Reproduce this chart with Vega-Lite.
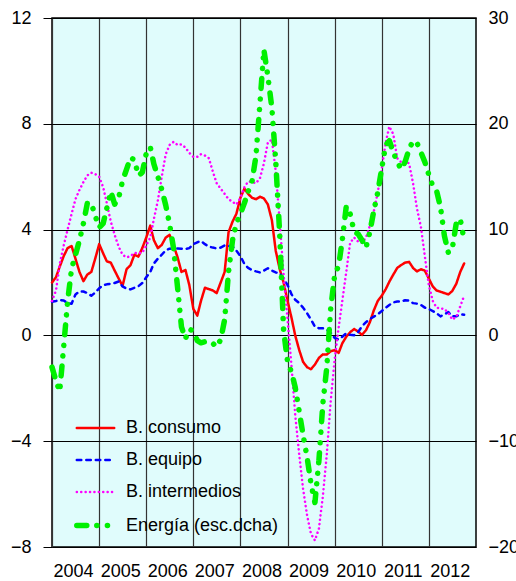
{
  "$schema": "https://vega.github.io/schema/vega-lite/v6.json",
  "width": 424,
  "height": 529,
  "autosize": {"type": "none"},
  "padding": {"left": 52, "top": 18, "right": 40, "bottom": 34},
  "background": "white",
  "config": {
    "view": {"fill": "#E0FCFC", "stroke": "#000", "strokeWidth": 1.5},
    "font": "Liberation Sans",
    "axis": {"labelFont": "Liberation Sans", "labelFontSize": 18, "labelColor": "#000", "title": null},
    "legend": {"labelFont": "Liberation Sans", "labelFontSize": 18, "labelColor": "#000"}
  },
  "data": {"values": [
    {"d":"2004-01","c":2.0,"e":1.27,"i":1.3,"n":-3.0},
    {"d":"2004-02","c":2.2,"e":1.3,"i":1.7,"n":-4.3},
    {"d":"2004-03","c":2.6,"e":1.34,"i":2.7,"n":-5.3},
    {"d":"2004-04","c":3.0,"e":1.32,"i":3.4,"n":-1.0},
    {"d":"2004-05","c":3.3,"e":1.22,"i":4.0,"n":3.2},
    {"d":"2004-06","c":3.38,"e":1.2,"i":4.6,"n":6.3},
    {"d":"2004-07","c":2.9,"e":1.55,"i":5.15,"n":7.6},
    {"d":"2004-08","c":2.4,"e":1.66,"i":5.5,"n":9.0},
    {"d":"2004-09","c":2.05,"e":1.66,"i":5.8,"n":10.6},
    {"d":"2004-10","c":2.3,"e":1.6,"i":6.05,"n":12.5},
    {"d":"2004-11","c":2.4,"e":1.5,"i":6.15,"n":12.5},
    {"d":"2004-12","c":2.9,"e":1.62,"i":6.1,"n":11.3},
    {"d":"2005-01","c":3.45,"e":1.78,"i":6.0,"n":10.2},
    {"d":"2005-02","c":3.1,"e":1.9,"i":5.6,"n":10.6},
    {"d":"2005-03","c":2.8,"e":1.93,"i":5.0,"n":12.0},
    {"d":"2005-04","c":2.75,"e":1.95,"i":4.3,"n":13.6},
    {"d":"2005-05","c":2.45,"e":1.98,"i":3.8,"n":12.4},
    {"d":"2005-06","c":2.15,"e":2.04,"i":3.35,"n":13.0},
    {"d":"2005-07","c":1.87,"e":1.85,"i":3.05,"n":14.6},
    {"d":"2005-08","c":2.5,"e":1.77,"i":2.95,"n":15.7},
    {"d":"2005-09","c":2.66,"e":1.74,"i":3.0,"n":16.8},
    {"d":"2005-10","c":3.05,"e":1.8,"i":3.12,"n":16.6},
    {"d":"2005-11","c":2.98,"e":1.86,"i":3.12,"n":15.1},
    {"d":"2005-12","c":3.3,"e":1.98,"i":3.12,"n":15.4},
    {"d":"2006-01","c":3.7,"e":2.2,"i":3.4,"n":17.2},
    {"d":"2006-02","c":4.15,"e":2.4,"i":3.7,"n":17.8},
    {"d":"2006-03","c":3.6,"e":2.72,"i":4.4,"n":16.2},
    {"d":"2006-04","c":3.3,"e":2.9,"i":5.1,"n":15.0},
    {"d":"2006-05","c":3.42,"e":3.05,"i":6.0,"n":13.8},
    {"d":"2006-06","c":3.7,"e":3.22,"i":6.85,"n":12.3},
    {"d":"2006-07","c":3.8,"e":3.28,"i":7.2,"n":10.5},
    {"d":"2006-08","c":3.4,"e":3.29,"i":7.32,"n":8.2},
    {"d":"2006-09","c":2.95,"e":3.29,"i":7.2,"n":4.5},
    {"d":"2006-10","c":2.4,"e":3.28,"i":7.22,"n":0.8},
    {"d":"2006-11","c":2.47,"e":3.27,"i":7.1,"n":-0.3},
    {"d":"2006-12","c":1.9,"e":3.3,"i":6.9,"n":0.6},
    {"d":"2007-01","c":1.0,"e":3.45,"i":6.75,"n":0.4},
    {"d":"2007-02","c":0.75,"e":3.52,"i":6.75,"n":-0.5},
    {"d":"2007-03","c":1.3,"e":3.57,"i":6.85,"n":-0.7},
    {"d":"2007-04","c":1.8,"e":3.45,"i":6.8,"n":-0.6},
    {"d":"2007-05","c":1.75,"e":3.36,"i":6.7,"n":-0.6},
    {"d":"2007-06","c":1.7,"e":3.32,"i":6.2,"n":-0.75},
    {"d":"2007-07","c":1.6,"e":3.29,"i":5.75,"n":-1.1},
    {"d":"2007-08","c":2.0,"e":3.32,"i":5.55,"n":-0.4},
    {"d":"2007-09","c":2.4,"e":3.4,"i":5.35,"n":1.5},
    {"d":"2007-10","c":3.9,"e":3.38,"i":5.15,"n":6.0},
    {"d":"2007-11","c":4.3,"e":3.36,"i":5.05,"n":9.0},
    {"d":"2007-12","c":4.6,"e":3.2,"i":4.95,"n":10.6},
    {"d":"2008-01","c":5.2,"e":3.0,"i":5.2,"n":11.5},
    {"d":"2008-02","c":5.55,"e":2.7,"i":5.6,"n":12.5},
    {"d":"2008-03","c":5.35,"e":2.55,"i":5.82,"n":13.6},
    {"d":"2008-04","c":5.2,"e":2.47,"i":5.8,"n":14.6},
    {"d":"2008-05","c":5.15,"e":2.42,"i":5.75,"n":17.0},
    {"d":"2008-06","c":5.24,"e":2.38,"i":5.95,"n":22.0},
    {"d":"2008-07","c":5.18,"e":2.45,"i":6.5,"n":27.0},
    {"d":"2008-08","c":4.95,"e":2.54,"i":7.3,"n":24.5},
    {"d":"2008-09","c":4.36,"e":2.45,"i":7.4,"n":21.5},
    {"d":"2008-10","c":3.2,"e":2.38,"i":6.2,"n":16.5},
    {"d":"2008-11","c":2.5,"e":2.35,"i":4.3,"n":9.5},
    {"d":"2008-12","c":2.0,"e":2.15,"i":2.3,"n":0.5},
    {"d":"2009-01","c":1.3,"e":1.9,"i":0.6,"n":-2.5},
    {"d":"2009-02","c":0.65,"e":1.55,"i":-1.2,"n":-3.5},
    {"d":"2009-03","c":0.0,"e":1.35,"i":-3.0,"n":-4.9},
    {"d":"2009-04","c":-0.55,"e":1.22,"i":-4.5,"n":-7.2},
    {"d":"2009-05","c":-1.0,"e":1.05,"i":-5.8,"n":-9.4},
    {"d":"2009-06","c":-1.2,"e":0.84,"i":-6.8,"n":-11.5},
    {"d":"2009-07","c":-1.28,"e":0.6,"i":-7.5,"n":-14.0},
    {"d":"2009-08","c":-1.1,"e":0.33,"i":-7.75,"n":-15.8},
    {"d":"2009-09","c":-0.85,"e":0.27,"i":-7.3,"n":-11.8},
    {"d":"2009-10","c":-0.72,"e":0.27,"i":-6.1,"n":-6.5},
    {"d":"2009-11","c":-0.72,"e":0.22,"i":-4.5,"n":-3.0},
    {"d":"2009-12","c":-0.6,"e":0.1,"i":-2.5,"n":2.5},
    {"d":"2010-01","c":-0.56,"e":-0.1,"i":-0.9,"n":5.7},
    {"d":"2010-02","c":-0.66,"e":-0.15,"i":0.3,"n":6.6},
    {"d":"2010-03","c":-0.3,"e":-0.05,"i":1.3,"n":9.0},
    {"d":"2010-04","c":-0.05,"e":0.08,"i":2.4,"n":12.2},
    {"d":"2010-05","c":0.12,"e":0.02,"i":3.5,"n":11.5},
    {"d":"2010-06","c":0.24,"e":0.01,"i":3.7,"n":9.8},
    {"d":"2010-07","c":0.15,"e":0.12,"i":3.55,"n":9.6},
    {"d":"2010-08","c":0.02,"e":0.35,"i":3.5,"n":9.0},
    {"d":"2010-09","c":0.2,"e":0.5,"i":3.7,"n":8.3},
    {"d":"2010-10","c":0.5,"e":0.62,"i":4.15,"n":9.8},
    {"d":"2010-11","c":0.95,"e":0.71,"i":4.7,"n":11.8},
    {"d":"2010-12","c":1.3,"e":0.8,"i":5.4,"n":13.5},
    {"d":"2011-01","c":1.5,"e":0.92,"i":6.3,"n":15.8},
    {"d":"2011-02","c":1.75,"e":1.05,"i":7.3,"n":18.0},
    {"d":"2011-03","c":2.03,"e":1.15,"i":7.9,"n":18.4},
    {"d":"2011-04","c":2.3,"e":1.25,"i":7.6,"n":17.3},
    {"d":"2011-05","c":2.55,"e":1.28,"i":6.7,"n":16.4},
    {"d":"2011-06","c":2.66,"e":1.28,"i":6.55,"n":15.7},
    {"d":"2011-07","c":2.75,"e":1.33,"i":6.6,"n":16.4},
    {"d":"2011-08","c":2.78,"e":1.32,"i":6.5,"n":17.6},
    {"d":"2011-09","c":2.55,"e":1.22,"i":5.75,"n":18.4},
    {"d":"2011-10","c":2.42,"e":1.2,"i":4.8,"n":18.2},
    {"d":"2011-11","c":2.5,"e":1.15,"i":4.1,"n":17.3},
    {"d":"2011-12","c":2.45,"e":1.05,"i":3.0,"n":16.4},
    {"d":"2012-01","c":2.15,"e":1.0,"i":1.9,"n":15.2},
    {"d":"2012-02","c":1.85,"e":0.92,"i":1.3,"n":14.1},
    {"d":"2012-03","c":1.7,"e":0.84,"i":1.05,"n":13.7},
    {"d":"2012-04","c":1.65,"e":0.72,"i":1.02,"n":12.1},
    {"d":"2012-05","c":1.6,"e":0.8,"i":1.0,"n":9.4},
    {"d":"2012-06","c":1.55,"e":0.88,"i":0.85,"n":7.8},
    {"d":"2012-07","c":1.68,"e":0.72,"i":0.6,"n":8.2},
    {"d":"2012-08","c":1.95,"e":0.72,"i":0.7,"n":10.6},
    {"d":"2012-09","c":2.4,"e":0.8,"i":1.1,"n":11.0},
    {"d":"2012-10","c":2.72,"e":0.78,"i":1.5,"n":9.0}
  ]},
  "encoding": {
    "x": {
      "field": "d", "type": "temporal",
      "scale": {"domain": [{"year": 2004, "month": 1, "date": 1}, {"year": 2013, "month": 1, "date": 1}]},
      "axis": {
        "orient": "bottom", "title": null, "format": "%Y",
        "values": [{"year": 2004, "month": 1, "date": 1}, {"year": 2005, "month": 1, "date": 1}, {"year": 2006, "month": 1, "date": 1}, {"year": 2007, "month": 1, "date": 1}, {"year": 2008, "month": 1, "date": 1}, {"year": 2009, "month": 1, "date": 1}, {"year": 2010, "month": 1, "date": 1}, {"year": 2011, "month": 1, "date": 1}, {"year": 2012, "month": 1, "date": 1}],
        "labelOffset": 21, "labelAlign": "center", "ticks": false, "domain": false,
        "grid": true, "gridColor": "#333", "gridWidth": 1.2, "labelPadding": 15, "labelFlush": false, "labelOverlap": false
      }
    },
    "color": {
      "field": "s", "type": "nominal",
      "scale": {"domain": ["c", "e", "i", "n"], "range": ["#FF0000", "#0000FF", "#FF00FF", "#00F000"]},
      "legend": {"title": null, "orient": "none", "legendX": 22, "legendY": 390, "symbolType": "stroke", "symbolSize": 1400, "labelOffset": 9, "rowPadding": 3, "labelExpr": "datum.label == 'c' ? 'B. consumo' : datum.label == 'e' ? 'B. equipo' : datum.label == 'i' ? 'B. intermedios' : 'Energía (esc.dcha)'", "encode": {"symbols": {"update": {"strokeCap": {"value": "round"}}}}}
    },
    "strokeDash": {
      "field": "s", "type": "nominal",
      "scale": {"domain": ["c", "e", "i", "n"], "range": [[1, 0], [4.5, 5], [0.1, 4.3], [10, 10, 0.1, 10.5, 0.1, 10.5]]},
      "legend": {"title": null, "orient": "none", "legendX": 22, "legendY": 390, "symbolType": "stroke", "symbolSize": 1400, "labelOffset": 9, "rowPadding": 3, "labelExpr": "datum.label == 'c' ? 'B. consumo' : datum.label == 'e' ? 'B. equipo' : datum.label == 'i' ? 'B. intermedios' : 'Energía (esc.dcha)'", "encode": {"symbols": {"update": {"strokeCap": {"value": "round"}}}}}
    },
    "strokeWidth": {
      "field": "s", "type": "nominal",
      "scale": {"type": "ordinal", "domain": ["c", "e", "i", "n"], "range": [2.5, 2.5, 2.5, 5.5]},
      "legend": {"title": null, "orient": "none", "legendX": 22, "legendY": 390, "symbolType": "stroke", "symbolSize": 1400, "labelOffset": 9, "rowPadding": 3, "labelExpr": "datum.label == 'c' ? 'B. consumo' : datum.label == 'e' ? 'B. equipo' : datum.label == 'i' ? 'B. intermedios' : 'Energía (esc.dcha)'", "encode": {"symbols": {"update": {"strokeCap": {"value": "round"}}}}}
    }
  },
  "layer": [
    {
      "transform": [{"fold": ["c", "e", "i"], "as": ["s", "v"]}],
      "mark": {"type": "line", "strokeCap": "round", "strokeJoin": "round"},
      "encoding": {
        "y": {
          "field": "v", "type": "quantitative",
          "scale": {"domain": [-8, 12], "nice": false, "zero": false},
          "axis": {"orient": "left", "title": null, "values": [-8, -4, 0, 4, 8, 12], "grid": true, "gridColor": "#000", "gridWidth": 1, "tickSize": 9, "tickColor": "#000", "tickWidth": 1, "labelPadding": 12, "domain": false}
        }
      }
    },
    {
      "transform": [{"fold": ["n"], "as": ["s", "v"]}],
      "mark": {"type": "line", "strokeCap": "round", "strokeJoin": "round"},
      "encoding": {
        "y": {
          "field": "v", "type": "quantitative",
          "scale": {"domain": [-20, 30], "nice": false, "zero": false},
          "axis": {"orient": "right", "title": null, "values": [-20, -10, 0, 10, 20, 30], "grid": false, "ticks": false, "labelPadding": 12, "domain": false}
        }
      }
    }
  ],
  "resolve": {"scale": {"y": "independent"}}
}
